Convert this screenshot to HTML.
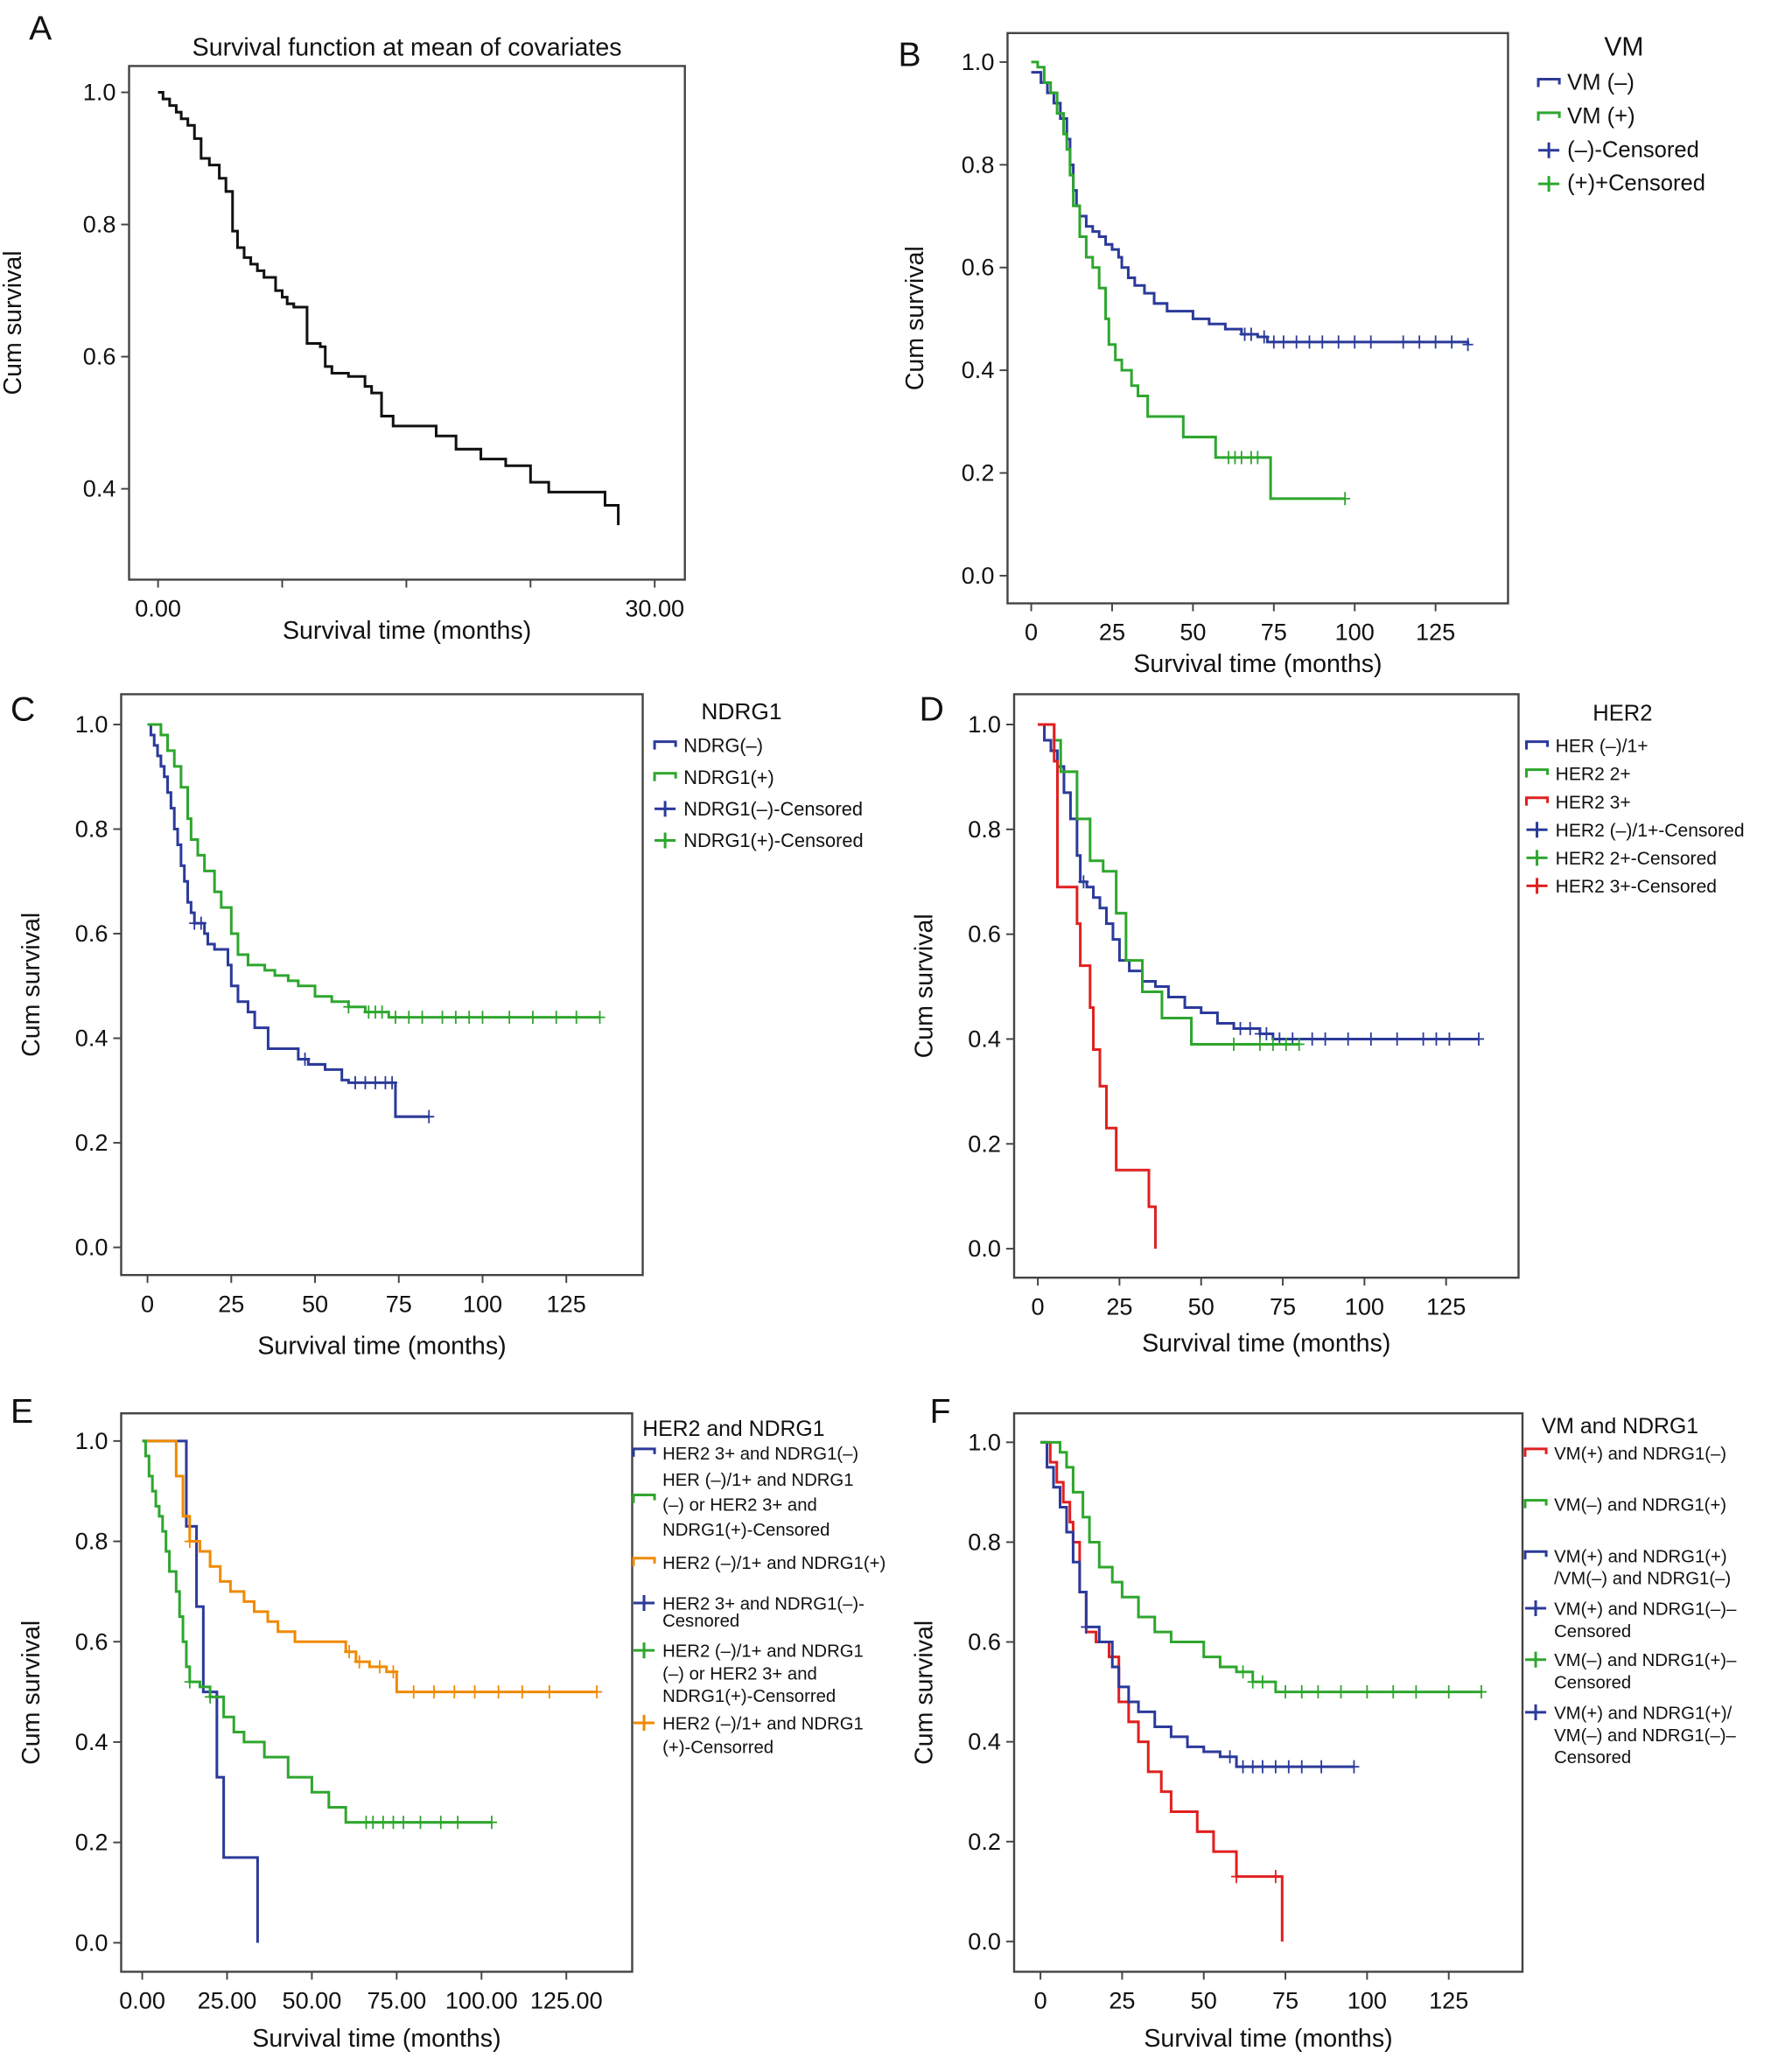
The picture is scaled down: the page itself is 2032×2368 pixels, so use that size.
<!DOCTYPE html>
<html><head><meta charset="utf-8"><style>
html,body{margin:0;padding:0;background:#fff;}
svg{display:block;font-family:"Liberation Sans",sans-serif;}
</style></head><body>
<svg id="fig" width="2032" height="2368" viewBox="0 0 1350 1573" xmlns="http://www.w3.org/2000/svg"></svg>
<script>
// ---- Data (time months, survival) ----
const aT=[0,0.3,0.7,1.1,1.4,1.8,2.2,2.6,3.1,3.7,4.1,4.5,4.8,5.2,5.6,6.0,6.4,7.1,7.5,7.8,8.2,9.0,9.8,10.1,10.5,11.5,12.5,12.9,13.5,14.2,16.8,18.0,19.5,21.0,22.5,23.6,27.0,27.8];
const aS=[1.0,0.99,0.98,0.97,0.96,0.95,0.93,0.90,0.89,0.87,0.85,0.79,0.765,0.75,0.74,0.73,0.72,0.70,0.69,0.68,0.675,0.62,0.615,0.585,0.575,0.57,0.555,0.545,0.51,0.495,0.48,0.46,0.445,0.435,0.41,0.395,0.375,0.345];

const bNegT=[0,3,5,7,9,11,12,13,14,15,17,19,21,23,25,27,28,30,32,35,38,42,50,55,60,65,70,73,135];
const bNegS=[0.98,0.96,0.94,0.92,0.89,0.85,0.80,0.75,0.72,0.70,0.68,0.67,0.66,0.645,0.635,0.62,0.60,0.58,0.565,0.55,0.53,0.515,0.50,0.49,0.48,0.47,0.465,0.455,0.45];
const bNegC=[66,68,72,75,78,82,86,90,95,100,105,115,120,125,130,135];
const bPosT=[0,2,4,6,8,10,11,12,13,15,17,19,21,23,24,26,28,31,33,36,47,57,74,97];
const bPosS=[1.0,0.99,0.96,0.94,0.90,0.86,0.83,0.78,0.72,0.66,0.62,0.60,0.56,0.50,0.45,0.42,0.40,0.37,0.35,0.31,0.27,0.23,0.15,0.15];
const bPosC=[61,63,65,68,70,97];

const cNegT=[0,1,2,3,4,5,6,7,8,9,10,11,12,13,14,17,18,20,24,25,27,30,32,36,45,48,53,58,60,74,84];
const cNegS=[1.0,0.98,0.96,0.94,0.92,0.90,0.87,0.84,0.80,0.77,0.73,0.70,0.66,0.64,0.62,0.60,0.58,0.57,0.54,0.50,0.47,0.45,0.42,0.38,0.36,0.35,0.34,0.32,0.315,0.25,0.25];
const cNegC=[14,16,47,62,65,68,71,73,84];
const cPosT=[0,4,6,8,10,12,13,15,17,20,22,25,27,30,35,38,42,45,50,55,60,65,72,135];
const cPosS=[1.0,0.98,0.95,0.92,0.88,0.82,0.78,0.75,0.72,0.68,0.65,0.60,0.56,0.54,0.53,0.52,0.51,0.50,0.48,0.47,0.46,0.45,0.44,0.44];
const cPosC=[60,66,68,70,74,78,82,88,92,96,100,108,115,122,128,135];

const dBlueT=[0,2,4,6,8,10,12,13,15,17,19,21,23,25,28,32,36,40,45,50,55,60,68,72,135];
const dBlueS=[1.0,0.97,0.95,0.92,0.87,0.82,0.75,0.70,0.69,0.67,0.65,0.62,0.59,0.55,0.53,0.51,0.50,0.48,0.46,0.45,0.43,0.42,0.41,0.40,0.40];
const dBlueC=[14,62,65,68,70,74,78,84,88,95,102,110,118,122,126,135];
const dGreenT=[0,5,7,12,16,20,24,27,32,38,47,80];
const dGreenS=[1.0,0.97,0.91,0.82,0.74,0.72,0.64,0.55,0.49,0.44,0.39,0.39];
const dGreenC=[60,68,72,76,80];
const dRedT=[0,5,6,12,13,16,17,19,21,24,34,36];
const dRedS=[1.0,0.93,0.69,0.62,0.54,0.46,0.38,0.31,0.23,0.15,0.08,0.0];

const eBlueT=[0,13,16,18,22,24,34,34];
const eBlueS=[1.0,0.83,0.67,0.50,0.33,0.17,0.0,0.0];
const eOrT=[0,10,12,14,17,20,23,26,30,33,37,40,45,60,63,67,72,75,134];
const eOrS=[1.0,0.93,0.85,0.80,0.78,0.75,0.72,0.70,0.68,0.66,0.64,0.62,0.60,0.58,0.56,0.55,0.54,0.50,0.50];
const eOrC=[14,61,64,70,74,80,86,92,98,105,112,120,134];
const eGrT=[0,1,2,3,4,5,6,7,8,10,11,12,13,14,17,20,24,27,30,36,43,50,55,60,103];
const eGrS=[1.0,0.97,0.93,0.90,0.87,0.85,0.82,0.78,0.74,0.70,0.65,0.60,0.55,0.52,0.51,0.49,0.45,0.42,0.40,0.37,0.33,0.30,0.27,0.24,0.24];
const eGrC=[14,20,66,68,71,74,77,82,88,93,103];

const fRedT=[0,3,5,7,9,10,12,14,17,21,24,27,30,33,37,40,48,53,60,74,74];
const fRedS=[1.0,0.96,0.92,0.88,0.84,0.80,0.70,0.62,0.60,0.57,0.48,0.44,0.40,0.34,0.30,0.26,0.22,0.18,0.13,0.0,0.0];
const fRedC=[60,72];
const fBlueT=[0,2,4,6,8,10,12,14,18,22,24,27,30,35,40,45,50,55,60,96];
const fBlueS=[1.0,0.95,0.91,0.87,0.82,0.76,0.70,0.63,0.60,0.55,0.51,0.48,0.46,0.43,0.41,0.39,0.38,0.37,0.35,0.35];
const fBlueC=[14,58,62,65,68,72,76,80,86,96];
const fGrT=[0,6,8,10,13,15,18,22,25,30,35,40,50,55,60,65,72,135];
const fGrS=[1.0,0.98,0.95,0.90,0.85,0.80,0.75,0.72,0.69,0.65,0.62,0.60,0.57,0.55,0.54,0.52,0.50,0.50];
const fGrC=[62,65,68,75,80,85,92,100,108,115,125,135];

const BLUE="#2b3a9a",GREEN="#2ea62e",RED="#e02020",ORANGE="#f08a00";
const NS="http://www.w3.org/2000/svg";
const svg=document.getElementById('fig');
function el(tag,attrs,parent){const e=document.createElementNS(NS,tag);for(const k in attrs)e.setAttribute(k,attrs[k]);(parent||svg).appendChild(e);return e;}
function txt(s,x,y,size,parent,anchor,extra){const t=el('text',Object.assign({x:x,y:y,'font-size':size,'text-anchor':anchor||'start',fill:'#111'},extra||{}),parent);t.textContent=s;return t;}

function panel(c){
  const g=el('g',{});
  
  
  const X=t=>c.x0+t*c.kx, Y=s=>c.y0-s*c.ky;
  const fr=el('rect',{x:c.fx,y:c.fy,width:c.fw,height:c.fh,fill:'none',stroke:'#444','stroke-width':1.6},g);
  
  
  const bottom=c.fy+c.fh;
  c.xt.forEach((v,i)=>{el('line',{x1:X(v),x2:X(v),y1:bottom,y2:bottom+6,stroke:'#444','stroke-width':1.3},g);
    if(c.xl[i]!==''){const t=txt(c.xl[i],X(v),bottom+28,18,g,'middle');}});
  c.yt.forEach(v=>{el('line',{x1:c.fx-6,x2:c.fx,y1:Y(v),y2:Y(v),stroke:'#444','stroke-width':1.3},g);
    const t=txt(v.toFixed(1),c.fx-10,Y(v)+6,18,g,'end');});
  const xt=txt('Survival time (months)',c.fx+c.fw/2,bottom+c.xto,19,g,'middle');
  
  const yx=c.fx-c.yto, yy=c.fy+c.fh/2;
  const yt=txt('Cum survival',yx,yy,19,g,'middle',{transform:`rotate(-90 ${yx} ${yy})`});
  
  const lt=txt(c.id,c.lx,c.ly,26,g,'start');
  c.series.forEach(s=>{
    let d=`M${X(s.t[0])},${Y(s.s[0])}`;
    for(let i=1;i<s.t.length;i++){d+=` H${X(s.t[i])} V${Y(s.s[i])}`;}
    const p=el('path',{d:d,fill:'none',stroke:s.col,'stroke-width':2},g);
    
    
    (s.c||[]).forEach(ct=>{
      let sv=s.s[0];for(let i=0;i<s.t.length;i++){if(s.t[i]<=ct)sv=s.s[i];}
      const m=el('path',{d:`M${X(ct)},${Y(sv)-5} V${Y(sv)+5} M${X(ct)-4},${Y(sv)} H${X(ct)+4}`,stroke:s.col,'stroke-width':1.2},g);
      
      
    });
  });
  return g;
}
function legend(items,x,y,dy,title,tx,ty,size,lh){
  const g=el('g',{});
  
  
  if(title){const t=txt(title,tx,ty,size+3,g,'middle');}
  items.forEach((it,i)=>{
    const yy=y+(it.dy!==undefined?it.dy:i*dy);
    const sym=it.c?`M${x},${yy} H${x+16} M${x+8},${yy-6} V${yy+6}`:`M${x},${yy+3} V${yy-3} H${x+16} V${yy+1}`;
    const m=el('path',{d:sym,fill:'none',stroke:it.col,'stroke-width':2},g);
    
    const step=it.lh||lh||size*1.25;
    it.lines.forEach((ln,j)=>{const t=txt(ln,x+22,yy+5+j*step,size,g);});
  });
}

// Panel A
const tA=txt('Survival function at mean of covariates',309,42,19,svg,'middle');

panel({id:'A',fx:98,fy:50,fw:422,fh:390,x0:120,kx:12.57,y0:571.7,ky:501.7,xt:[0,7.5,15,22.5,30],xl:['0.00','','','','30.00'],yt:[1.0,0.8,0.6,0.4],xto:45,yto:82,lx:22,ly:30,
  series:[{name:'overall',t:aT,s:aS,col:'#111'}]});
// Panel B
panel({id:'B',fx:765,fy:25,fw:380,fh:433,x0:783,kx:2.456,y0:437,ky:390,xt:[0,25,50,75,100,125],xl:['0','25','50','75','100','125'],yt:[1.0,0.8,0.6,0.4,0.2,0.0],xto:52,yto:64,lx:682,ly:50,
  series:[{name:'vm-neg',t:bNegT,s:bNegS,c:bNegC,col:BLUE},{name:'vm-pos',t:bPosT,s:bPosS,c:bPosC,col:GREEN}]});
legend([{col:BLUE,lines:['VM (–)']},{col:GREEN,lines:['VM (+)']},{col:BLUE,c:1,lines:['(–)-Censored']},{col:GREEN,c:1,lines:['(+)+Censored']}],1168,63,25.5,'VM',1233,42,17);
// Panel C
panel({id:'C',fx:92,fy:527,fw:396,fh:441,x0:112,kx:2.544,y0:947,ky:397,xt:[0,25,50,75,100,125],xl:['0','25','50','75','100','125'],yt:[1.0,0.8,0.6,0.4,0.2,0.0],xto:60,yto:62,lx:8,ly:547,
  series:[{name:'ndrg1-neg',t:cNegT,s:cNegS,c:cNegC,col:BLUE},{name:'ndrg1-pos',t:cPosT,s:cPosS,c:cPosC,col:GREEN}]});
legend([{col:BLUE,lines:['NDRG(–)']},{col:GREEN,lines:['NDRG1(+)']},{col:BLUE,c:1,lines:['NDRG1(–)-Censored']},{col:GREEN,c:1,lines:['NDRG1(+)-Censored']}],497,566,24,'NDRG1',563,546,14.5);
// Panel D
panel({id:'D',fx:770,fy:527,fw:383,fh:443,x0:788,kx:2.48,y0:948,ky:398,xt:[0,25,50,75,100,125],xl:['0','25','50','75','100','125'],yt:[1.0,0.8,0.6,0.4,0.2,0.0],xto:56,yto:62,lx:698,ly:547,
  series:[{name:'her2-neg',t:dBlueT,s:dBlueS,c:dBlueC,col:BLUE},{name:'her2-2plus',t:dGreenT,s:dGreenS,c:dGreenC,col:GREEN},{name:'her2-3plus',t:dRedT,s:dRedS,col:RED}]});
legend([{col:BLUE,lines:['HER (–)/1+']},{col:GREEN,lines:['HER2 2+']},{col:RED,lines:['HER2 3+']},{col:BLUE,c:1,lines:['HER2 (–)/1+-Censored']},{col:GREEN,c:1,lines:['HER2 2+-Censored']},{col:RED,c:1,lines:['HER2 3+-Censored']}],1159,566,21.3,'HER2',1232,547,14);
// Panel E
panel({id:'E',fx:92,fy:1073,fw:388,fh:424,x0:108,kx:2.576,y0:1475,ky:381,xt:[0,25,50,75,100,125],xl:['0.00','25.00','50.00','75.00','100.00','125.00'],yt:[1.0,0.8,0.6,0.4,0.2,0.0],xto:57,yto:62,lx:8,ly:1080,
  series:[{name:'her2-3plus-ndrg1-neg',t:eBlueT,s:eBlueS,col:BLUE},{name:'her2-neg-ndrg1-pos',t:eOrT,s:eOrS,c:eOrC,col:ORANGE},{name:'mixed-group',t:eGrT,s:eGrS,c:eGrC,col:GREEN}]});
legend([{col:BLUE,dy:0,lines:['HER2 3+ and NDRG1(–)']},{col:GREEN,dy:35,lines:[]},{col:ORANGE,dy:83,lines:['HER2 (–)/1+ and NDRG1(+)']},{col:BLUE,c:1,dy:114,lh:13,lines:['HER2 3+ and NDRG1(–)-','Cesnored']},{col:GREEN,c:1,dy:150,lh:17,lines:['HER2 (–)/1+ and NDRG1','(–) or HER2 3+ and','NDRG1(+)-Censorred']},{col:ORANGE,c:1,dy:205,lh:18,lines:['HER2 (–)/1+ and NDRG1','(+)-Censorred']}],481,1103,0,'HER2 and NDRG1',557,1090,13.5);
[['HER (–)/1+ and NDRG1',1124],['(–) or HER2 3+ and',1143],['NDRG1(+)-Censored',1162]].forEach(a=>{const t=txt(a[0],503,a[1]+4,13.5);});
// Panel F
panel({id:'F',fx:770,fy:1073,fw:386,fh:424,x0:790,kx:2.48,y0:1474,ky:379,xt:[0,25,50,75,100,125],xl:['0','25','50','75','100','125'],yt:[1.0,0.8,0.6,0.4,0.2,0.0],xto:57,yto:62,lx:706,ly:1080,
  series:[{name:'vm-pos-ndrg1-neg',t:fRedT,s:fRedS,c:fRedC,col:RED},{name:'mixed-vm-ndrg1',t:fBlueT,s:fBlueS,c:fBlueC,col:BLUE},{name:'vm-neg-ndrg1-pos',t:fGrT,s:fGrS,c:fGrC,col:GREEN}]});
legend([{col:RED,dy:0,lines:['VM(+) and NDRG1(–)']},{col:GREEN,dy:39,lines:['VM(–) and NDRG1(+)']},{col:BLUE,dy:78,lines:['VM(+) and NDRG1(+)','/VM(–) and NDRG1(–)']},{col:BLUE,c:1,dy:118,lines:['VM(+) and NDRG1(–)–','Censored']},{col:GREEN,c:1,dy:157,lines:['VM(–) and NDRG1(+)–','Censored']},{col:BLUE,c:1,dy:197,lines:['VM(+) and NDRG1(+)/','VM(–) and NDRG1(–)–','Censored']}],1158,1103,0,'VM and NDRG1',1230,1088,13.5);
</script>
</body></html>
